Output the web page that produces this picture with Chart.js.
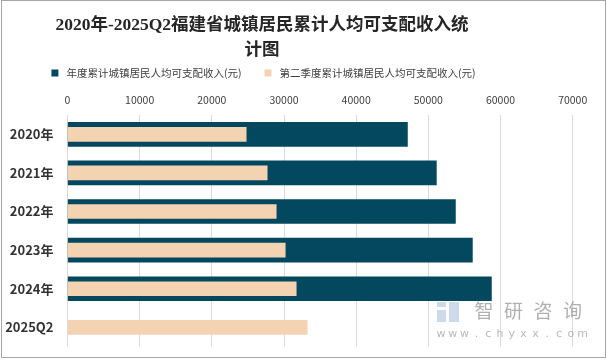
<!DOCTYPE html>
<html>
<head>
<meta charset="utf-8">
<script src="https://cdn.jsdelivr.net/npm/chart.js@4/dist/chart.umd.min.js"></script>
<style>
  html, body { margin: 0; padding: 0; background: #fff; }
  #wrap { position: relative; width: 607px; height: 361px; }
</style>
</head>
<body>
<div id="wrap"><canvas id="c" width="607" height="361"></canvas></div>
<script>
const titleLines = ['2020年-2025Q2福建省城镇居民累计人均可支配收入统', '计图'];
const categories = ['2020年', '2021年', '2022年', '2023年', '2024年', '2025Q2'];
const annualLabel = '年度累计城镇居民人均可支配收入(元)';
const q2Label = '第二季度累计城镇居民人均可支配收入(元)';
const annualValues = [47100, 51110, 53750, 56100, 58740, null];
const q2Values = [24760, 27670, 28920, 30170, 31690, 33220];
const xTicks = [0, 10000, 20000, 30000, 40000, 50000, 60000, 70000];

const DARK = '#03485F';
const LIGHT = '#F3D3B1';
const CJK = '"Noto Sans CJK SC", "Noto Sans", sans-serif';

const decor = {
  id: 'decor',
  afterDraw(chart) {
    const ctx = chart.ctx;
    ctx.save();
    // title
    ctx.fillStyle = '#262626';
    ctx.font = 'bold 17.5px "Liberation Serif", "Noto Sans CJK SC", serif';
    ctx.textAlign = 'center';
    ctx.textBaseline = 'middle';
    ctx.fillText(titleLines[0], 262, 25);
    ctx.fillText(titleLines[1], 262, 50);
    // legend from datasets
    ctx.font = '10.5px ' + CJK;
    ctx.textAlign = 'left';
    const items = chart.data.datasets.map(d => ({text: d.label, color: d.backgroundColor}));
    const box = 7, gapBox = 8, gapItem = 23;
    let total = 0;
    items.forEach((it, i) => { it.w = ctx.measureText(it.text).width; total += box + gapBox + it.w + (i ? gapItem : 0); });
    let x = 263.5 - total / 2;
    const y = 73;
    items.forEach(it => {
      ctx.fillStyle = it.color;
      ctx.fillRect(x, y - 3.5, box, box);
      ctx.fillStyle = '#404040';
      ctx.fillText(it.text, x + box + gapBox, y);
      x += box + gapBox + it.w + gapItem;
    });
    // watermark
    ctx.fillStyle = 'rgba(200,214,232,0.9)';
    ctx.fillRect(437, 302, 9, 5);
    ctx.fillRect(449, 302, 10, 20);
    ctx.fillRect(437, 310, 9, 12);
    ctx.fillStyle = 'rgba(150,150,150,0.75)';
    ctx.font = '19px ' + CJK;
    ctx.textAlign = 'center';
    ['智', '研', '咨', '询'].forEach((ch, i) => ctx.fillText(ch, 484 + i * 29.5, 311));
    ctx.fillStyle = 'rgba(160,160,160,0.75)';
    ctx.font = '11px "DejaVu Sans", sans-serif';
    'www.chyxx.com'.split('').forEach((ch, i) => ctx.fillText(ch, 441 + i * 11.8, 334));
    // outer border
    ctx.strokeStyle = '#A6A6A6';
    ctx.lineWidth = 1;
    ctx.strokeRect(1.5, 0.5, 604, 357);
    ctx.restore();
  }
};

new Chart(document.getElementById('c'), {
  type: 'bar',
  data: {
    labels: categories,
    datasets: [
      { label: annualLabel, data: annualValues, backgroundColor: DARK, barThickness: 24, order: 1 },
      { label: q2Label, data: q2Values, backgroundColor: LIGHT, barThickness: 14, order: 0 }
    ]
  },
  options: {
    indexAxis: 'y',
    responsive: false,
    animation: false,
    events: [],
    layout: { padding: { top: 85, left: 0, right: 34.3, bottom: 14.3 } },
    plugins: { legend: { display: false }, title: { display: false }, tooltip: { enabled: false } },
    scales: {
      x: {
        position: 'top',
        stacked: false,
        min: 0, max: 70000,
        afterBuildTicks: s => { s.ticks = xTicks.map(v => ({ value: v })); },
        afterFit: s => { s.height = 30; },
        grid: { color: '#D9D9D9', drawTicks: false },
        border: { display: false },
        ticks: { padding: 9, color: '#404040', font: { size: 10.5, family: CJK }, callback: v => String(v) }
      },
      y: {
        stacked: true,
        afterFit: s => { s.width = 67.5; s.paddingTop = 0; s.paddingBottom = 0; },
        grid: { display: false, drawTicks: false },
        border: { display: false },
        ticks: { padding: 14, color: '#333333', font: { size: 13, weight: 'bold', family: CJK } }
      }
    }
  },
  plugins: [decor]
});
</script>
</body>
</html>
